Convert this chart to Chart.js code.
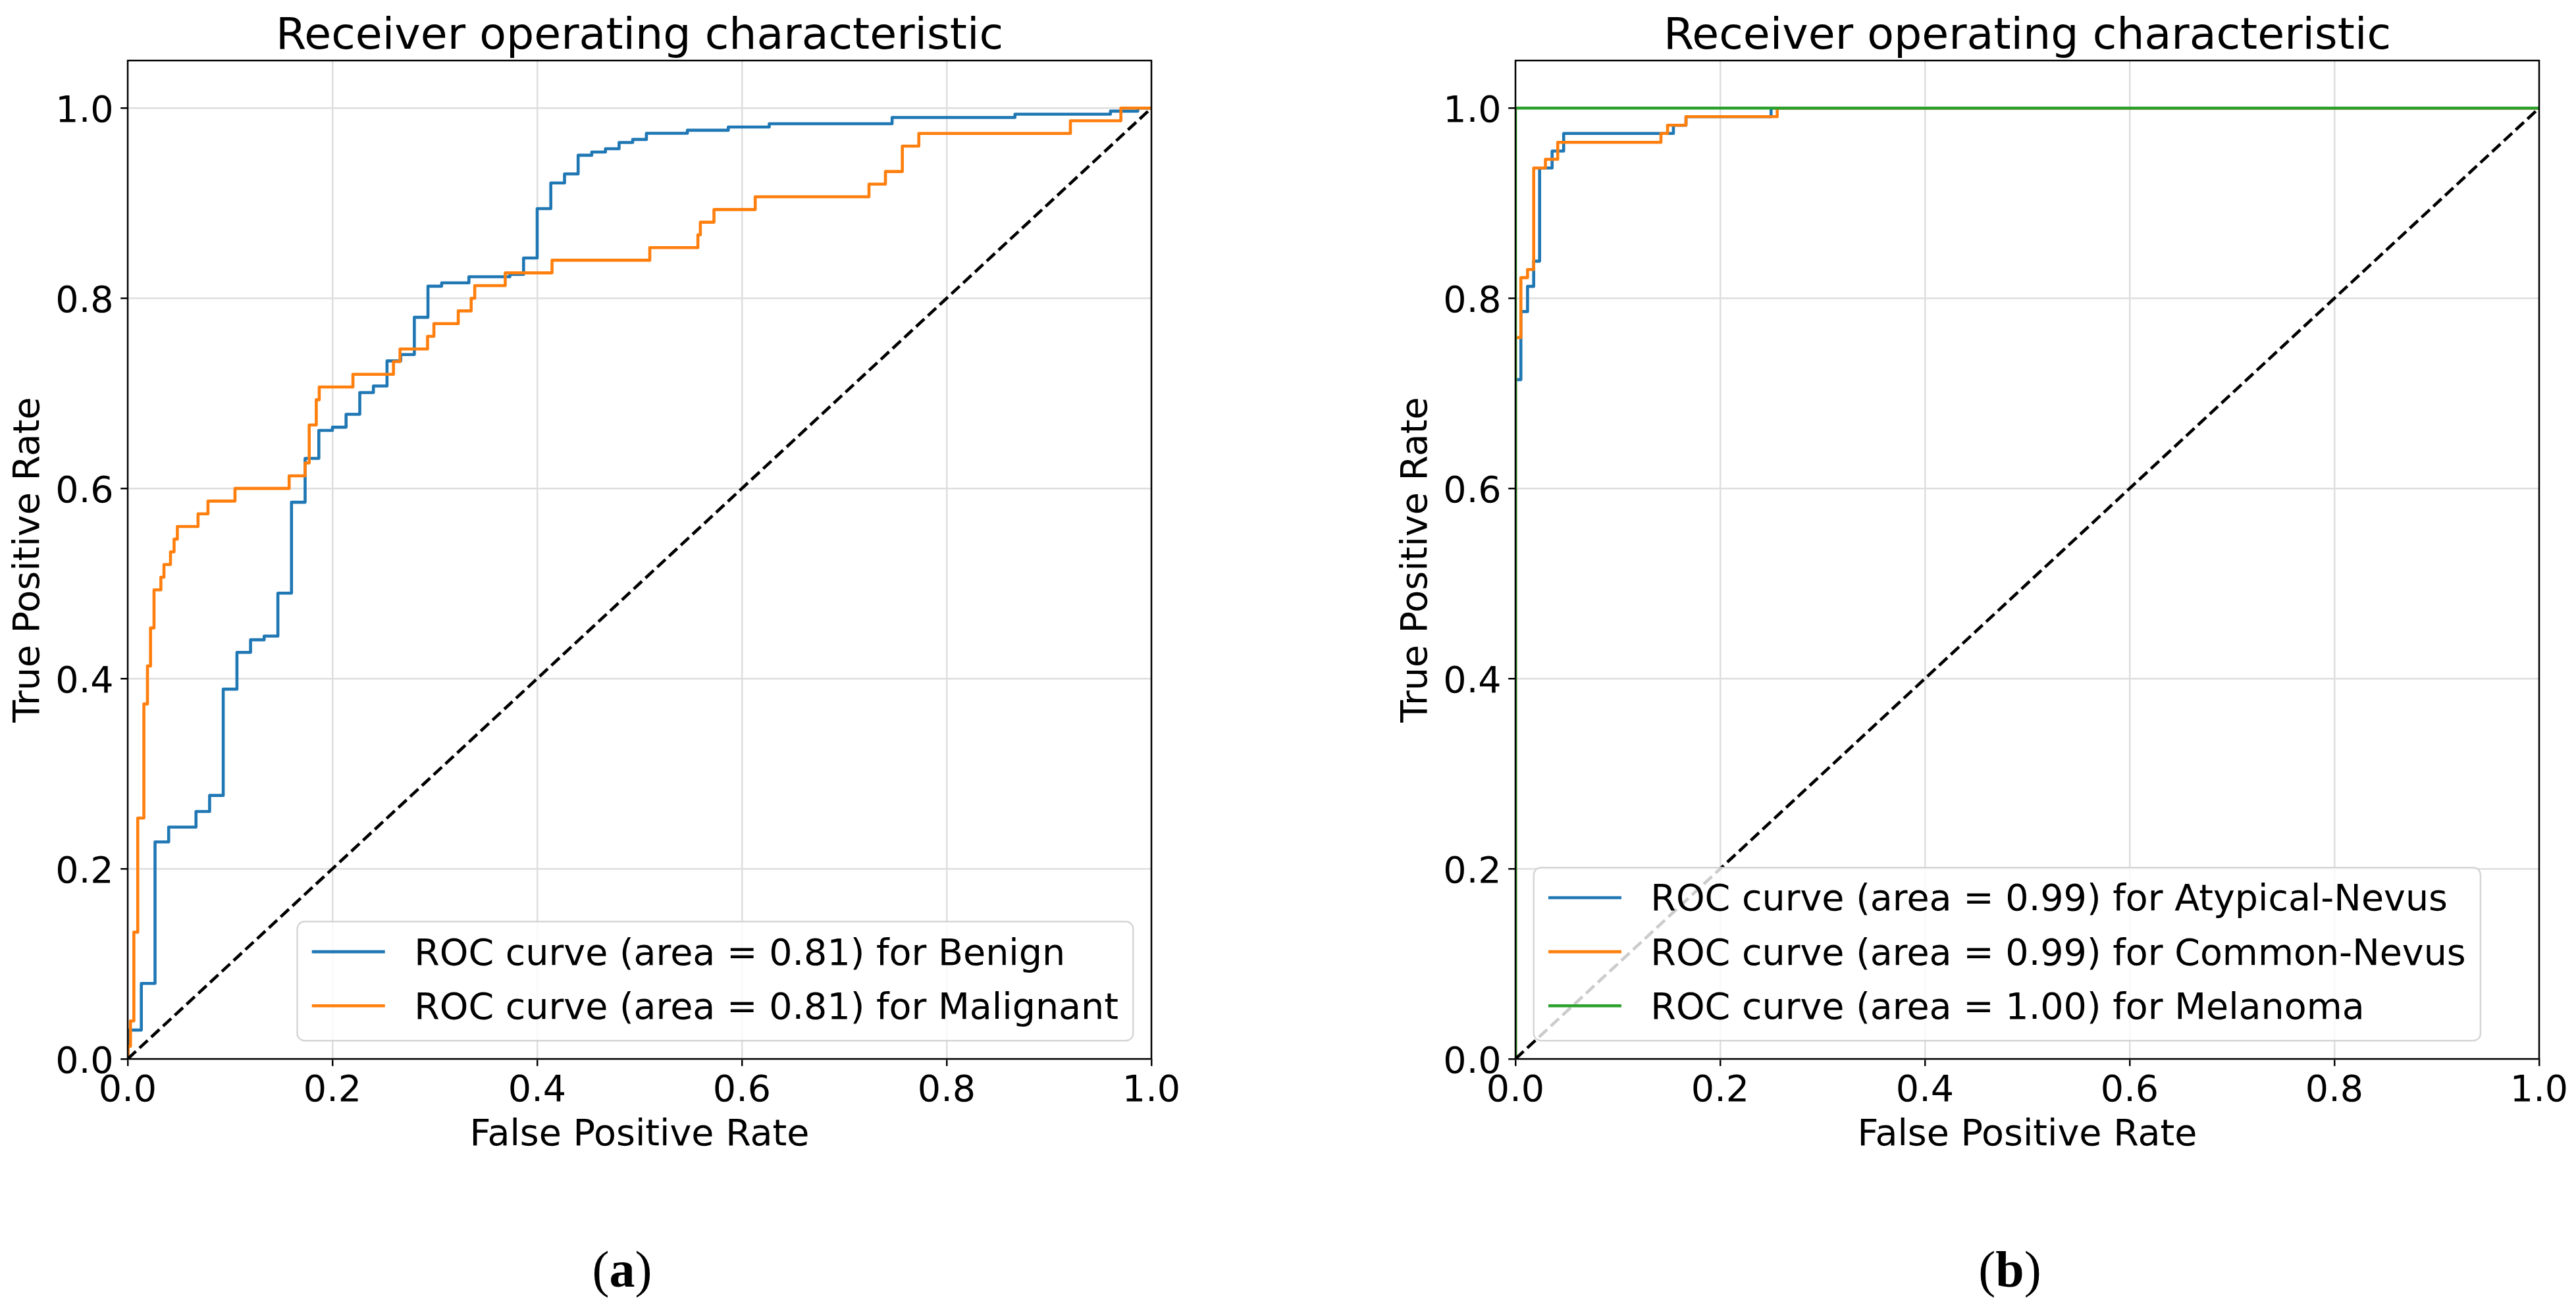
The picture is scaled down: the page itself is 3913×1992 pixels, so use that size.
<!DOCTYPE html>
<html>
<head>
<meta charset="utf-8">
<script src="https://cdn.jsdelivr.net/npm/chart.js@4.4.1/dist/chart.umd.min.js"></script>
<style>
  html, body { margin: 0; padding: 0; background: #ffffff; }
  #page { position: relative; width: 3913px; height: 1992px; overflow: hidden; background: #ffffff; }
  canvas { position: absolute; top: 0; }
  #chartA { left: 0; }
  #chartB { left: 1956px; }
  .cap { position: absolute; font-family: 'Liberation Serif', 'DejaVu Serif', serif; font-size: 78px; line-height: 78px; color: #000; white-space: nowrap; transform: translateX(-50%); }
</style>
</head>
<body>
<div id="page">
  <canvas id="chartA" width="1956" height="1800"></canvas>
  <canvas id="chartB" width="1957" height="1800"></canvas>
  <div class="cap" style="left:945px; top:1890px;">(<b>a</b>)</div>
  <div class="cap" style="left:3053px; top:1890px;">(<b>b</b>)</div>
</div>
<script>
// ---------------- data ----------------
const xTickValues = [0, 0.2, 0.4, 0.6, 0.8, 1.0];
const xTickLabels = ['0.0', '0.2', '0.4', '0.6', '0.8', '1.0'];
const yTickValues = [0, 0.2, 0.4, 0.6, 0.8, 1.0];
const yTickLabels = ['0.0', '0.2', '0.4', '0.6', '0.8', '1.0'];

const chanceFpr = [0, 1];
const chanceTpr = [0, 1];

// panel (a)
const benignFpr = [0, 0, 0.0133, 0.0267, 0.04, 0.0667, 0.08, 0.0933, 0.1067, 0.12, 0.1333, 0.1467, 0.16, 0.1733, 0.1867, 0.2, 0.2133, 0.2267, 0.24, 0.2533, 0.2667, 0.28, 0.2933, 0.3067, 0.3333, 0.3733, 0.3867, 0.4, 0.4133, 0.4267, 0.44, 0.4533, 0.4667, 0.48, 0.4933, 0.5067, 0.5467, 0.5867, 0.6267, 0.7467, 0.8667, 0.96, 0.9867, 1.0];
const benignTpr = [0, 0.0304, 0.0794, 0.2282, 0.2438, 0.2603, 0.2771, 0.3889, 0.4276, 0.4408, 0.4447, 0.4899, 0.5855, 0.6316, 0.661, 0.6644, 0.678, 0.7008, 0.7077, 0.7341, 0.7408, 0.780, 0.8127, 0.8162, 0.8226, 0.8251, 0.8424, 0.8943, 0.9213, 0.9308, 0.9504, 0.9538, 0.9573, 0.9638, 0.967, 0.9735, 0.9767, 0.9801, 0.9836, 0.9901, 0.9936, 0.9968, 1.0, 1.0];
const malignantFpr = [0, 0.0003, 0.0027, 0.006, 0.0098, 0.0158, 0.0193, 0.0223, 0.0257, 0.0324, 0.0354, 0.0418, 0.0453, 0.0485, 0.0687, 0.0784, 0.1048, 0.1577, 0.1733, 0.1773, 0.1842, 0.1871, 0.22, 0.2596, 0.266, 0.2929, 0.2991, 0.3229, 0.3355, 0.339, 0.3688, 0.4145, 0.51, 0.557, 0.5594, 0.5727, 0.613, 0.7241, 0.7402, 0.7567, 0.7728, 0.9209, 0.9702, 1.0];
const malignantTpr = [0, 0.0133, 0.04, 0.1333, 0.2533, 0.3733, 0.4133, 0.4533, 0.4933, 0.5067, 0.52, 0.5333, 0.5467, 0.56, 0.5733, 0.5867, 0.6, 0.6133, 0.6267, 0.6667, 0.6933, 0.7067, 0.72, 0.7333, 0.7467, 0.76, 0.7733, 0.7867, 0.8, 0.8133, 0.8267, 0.84, 0.8533, 0.8667, 0.88, 0.8933, 0.9067, 0.92, 0.9333, 0.96, 0.9733, 0.9867, 1.0, 1.0];

// panel (b)
const atypicalFpr = [0, 0, 0.0053, 0.0118, 0.0178, 0.0236, 0.0358, 0.0471, 0.1543, 0.1666, 0.2497, 1.0];
const atypicalTpr = [0, 0.7144, 0.786, 0.8125, 0.839, 0.937, 0.9548, 0.9733, 0.982, 0.991, 1.0, 1.0];
const commonFpr = [0, 0, 0.0053, 0.0118, 0.0178, 0.0293, 0.0413, 0.1421, 0.1486, 0.1666, 0.2557, 1.0];
const commonTpr = [0, 0.7587, 0.8217, 0.8302, 0.937, 0.9462, 0.964, 0.9733, 0.982, 0.991, 1.0, 1.0];
const melanomaFpr = [0, 0, 1.0];
const melanomaTpr = [0, 1.0, 1.0];

const seriesA = [
  { label: 'ROC curve (area = 0.81) for Benign', fpr: benignFpr, tpr: benignTpr, color: '#1f77b4' },
  { label: 'ROC curve (area = 0.81) for Malignant', fpr: malignantFpr, tpr: malignantTpr, color: '#ff7f0e' }
];
const seriesB = [
  { label: 'ROC curve (area = 0.99) for Atypical-Nevus', fpr: atypicalFpr, tpr: atypicalTpr, color: '#1f77b4' },
  { label: 'ROC curve (area = 0.99) for Common-Nevus', fpr: commonFpr, tpr: commonTpr, color: '#ff7f0e' },
  { label: 'ROC curve (area = 1.00) for Melanoma', fpr: melanomaFpr, tpr: melanomaTpr, color: '#2ca02c' }
];

// ---------------- styling ----------------
const FONT = "'DejaVu Sans'";
const FS = 55.5;          // base font size (px)
const TITLE_FS = 66.6;    // title font size
const LW = 4.6;           // curve line width
const THIN = 2.47;        // spine / grid / tick width
const GRID = '#dedede';

Chart.defaults.font.family = FONT;
Chart.defaults.color = '#000';

const pts = (xs, ys) => xs.map((x, i) => ({ x: x, y: ys[i] }));

const framePlugin = {
  id: 'frameAndLegend',
  afterDatasetsDraw(chart, args, opts) {
    const ctx = chart.ctx;
    const a = chart.chartArea;
    const items = chart.data.datasets.filter(d => d.inLegend);
    ctx.save();
    ctx.font = FS + 'px ' + FONT;
    const tw = Math.max.apply(null, items.map(d => ctx.measureText(d.label).width));
    const pad = 0.4 * FS, hl = 2.0 * FS, htp = 0.8 * FS, rowH = 54.4, sp = 0.5 * FS, bap = 0.5 * FS;
    const w = pad * 2 + hl + htp + tw;
    const h = pad * 2 + items.length * rowH + (items.length - 1) * sp;
    const x = opts.loc === 'right' ? a.right - bap - w : a.left + bap;
    const y = a.bottom - bap - h;
    const r = 0.2 * FS;
    ctx.beginPath();
    ctx.moveTo(x + r, y);
    ctx.lineTo(x + w - r, y);
    ctx.arcTo(x + w, y, x + w, y + r, r);
    ctx.lineTo(x + w, y + h - r);
    ctx.arcTo(x + w, y + h, x + w - r, y + h, r);
    ctx.lineTo(x + r, y + h);
    ctx.arcTo(x, y + h, x, y + h - r, r);
    ctx.lineTo(x, y + r);
    ctx.arcTo(x, y, x + r, y, r);
    ctx.closePath();
    ctx.fillStyle = 'rgba(255,255,255,0.8)';
    ctx.fill();
    ctx.lineWidth = THIN;
    ctx.strokeStyle = 'rgba(204,204,204,0.8)';
    ctx.stroke();
    items.forEach((d, i) => {
      const rowTop = y + pad + i * (rowH + sp);
      const hy = rowTop + 23.6;
      ctx.beginPath();
      ctx.moveTo(x + pad, hy);
      ctx.lineTo(x + pad + hl, hy);
      ctx.strokeStyle = d.borderColor;
      ctx.lineWidth = d.borderWidth;
      ctx.lineCap = 'butt';
      ctx.stroke();
      ctx.fillStyle = '#000';
      ctx.textBaseline = 'alphabetic';
      ctx.textAlign = 'left';
      ctx.fillText(d.label, x + pad + hl + htp, rowTop + 43);
    });
    // axes frame (all four spines)
    ctx.lineWidth = THIN;
    ctx.strokeStyle = '#000';
    ctx.strokeRect(a.left, a.top, a.right - a.left, a.bottom - a.top);
    ctx.restore();
  }
};

function makeChart(canvasId, series, padLeft, padRight, legendLoc) {
  const datasets = series.map((s, i) => ({
    label: s.label,
    data: pts(s.fpr, s.tpr),
    borderColor: s.color,
    backgroundColor: s.color,
    borderWidth: LW,
    borderJoinStyle: 'round',
    showLine: true,
    stepped: true,
    pointRadius: 0,
    pointHoverRadius: 0,
    fill: false,
    clip: 0,
    inLegend: true,
    order: series.length - i + 1
  }));
  datasets.push({
    label: 'chance',
    data: pts(chanceFpr, chanceTpr),
    borderColor: '#000',
    backgroundColor: '#000',
    borderWidth: LW,
    borderDash: [17, 7.4],
    showLine: true,
    pointRadius: 0,
    pointHoverRadius: 0,
    fill: false,
    clip: 0,
    inLegend: false,
    order: 1
  });

  return new Chart(document.getElementById(canvasId), {
    type: 'scatter',
    data: { datasets: datasets },
    plugins: [framePlugin],
    options: {
      responsive: false,
      animation: false,
      devicePixelRatio: 1,
      events: [],
      layout: { padding: { left: padLeft, right: padRight, top: 0, bottom: 0 } },
      plugins: {
        legend: { display: false },
        tooltip: { enabled: false },
        title: {
          display: true,
          text: 'Receiver operating characteristic',
          fullSize: false,
          color: '#000',
          font: { family: FONT, size: TITLE_FS, weight: 'normal', lineHeight: 1.0 },
          padding: { top: 23.1, bottom: 2.3 }
        },
        frameAndLegend: { loc: legendLoc }
      },
      scales: {
        x: {
          type: 'linear',
          min: 0, max: 1,
          bounds: 'data',
          afterFit: s => { s.height = 191; },
          afterBuildTicks: s => { s.ticks = xTickValues.map(v => ({ value: v })); },
          grid: { color: GRID, lineWidth: THIN, drawTicks: true, tickLength: 10.8, tickColor: '#000', tickWidth: THIN },
          border: { display: false },
          ticks: {
            autoSkip: false, maxRotation: 0, padding: 5,
            color: '#000',
            font: { family: FONT, size: FS, lineHeight: 1.2 },
            callback: (v, i) => xTickLabels[i]
          },
          title: {
            display: true, text: 'False Positive Rate', color: '#000',
            font: { family: FONT, size: FS, lineHeight: 1.2 },
            padding: { top: 0, bottom: 41.1 }
          }
        },
        y: {
          type: 'linear',
          min: 0, max: 1.05,
          bounds: 'data',
          afterFit: s => { s.width = 194; },
          afterBuildTicks: s => { s.ticks = yTickValues.map(v => ({ value: v })); },
          grid: { color: GRID, lineWidth: THIN, drawTicks: true, tickLength: 10.8, tickColor: '#000', tickWidth: THIN },
          border: { display: false },
          ticks: {
            autoSkip: false, padding: 10.6, labelOffset: 6.5,
            color: '#000',
            font: { family: FONT, size: FS, lineHeight: 1.2 },
            callback: (v, i) => yTickLabels[i]
          },
          title: {
            display: true, text: 'True Positive Rate', color: '#000',
            font: { family: FONT, size: FS, lineHeight: 1.2 },
            padding: { top: 11.4, bottom: 0 }
          }
        }
      }
    }
  });
}

makeChart('chartA', seriesA, 0, 207, 'right');
makeChart('chartB', seriesB, 152, 56, 'left');
</script>
</body>
</html>
